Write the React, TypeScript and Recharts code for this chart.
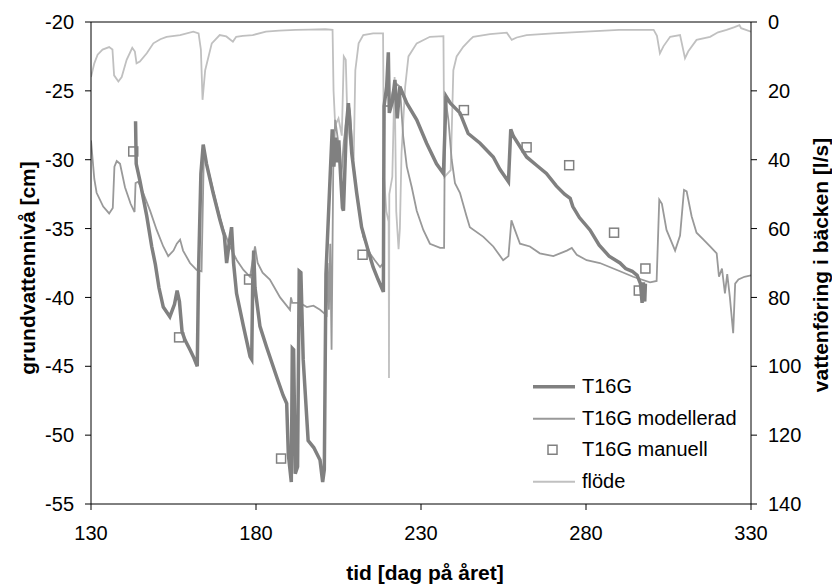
import React from 'react';
import { ComposedChart, Line, Scatter, XAxis, YAxis, Legend, Label, ReferenceLine } from 'recharts';

const FONT = '"Liberation Sans", Arial, Helvetica, sans-serif';

// axis ticks
const xTicks = [130, 180, 230, 280, 330];
const leftTicks = [-55, -50, -45, -40, -35, -30, -25, -20];
const rightTicks = [0, 20, 40, 60, 80, 100, 120, 140];

// T16G (logger), grundvattennivå [cm]
const t16gDays = [
  143.5, 143.7, 144.8, 146.9, 148.4, 149.5, 150.6, 151.9, 153.9, 155.3, 156.1, 156.8, 157.6, 158.5, 160,
  161.2, 162.2, 162.6, 163.3, 164, 165, 167, 169, 170.4, 171.1, 171.8, 172.6, 173.2, 174.1, 176.2, 177.3,
  178.2, 178.7, 179, 179.3, 179.7, 181.2, 183.2, 186.3, 188.2, 189.3, 189.8, 190.7, 191, 191.4, 191.9,
  192.6, 193.1, 193.6, 194.3, 195.8, 197.5, 199.4, 200.2, 200.7, 201.2, 202.5, 203.1, 203.6, 204.1, 204.6,
  205.1, 205.6, 206.2, 206.5, 206.9, 207.4, 208, 208.5, 209, 210.5, 212, 214, 215.5, 217, 218.6, 218.8,
  219.6, 220.1, 220.4, 221.3, 222.1, 222.8, 223.6, 225.7, 228.7, 231.7, 234.7, 236.8, 237.6, 238.9, 241.8,
  244.3, 247.9, 251.9, 253.9, 256.5, 257.2, 258, 262, 265, 268, 271, 273.5, 275.2, 276, 278, 281.2, 284,
  287, 290.3, 292, 294, 295.5, 296.5, 297, 297.4, 297.8, 298,
];
const t16gLevels = [
  -27.2, -30.3, -31.5, -34.1, -36.3, -37.6, -39.3, -40.7, -41.4, -40.5, -39.5, -40.3, -42.5, -43.1, -43.8,
  -44.4, -45, -38, -31, -28.9, -30.3, -32.4, -34.3, -35.5, -37.5, -36.2, -34.9, -37.5, -39.7, -42.1, -43.3,
  -44.3, -44.5, -38.9, -36.6, -39.3, -42.1, -43.6, -45.8, -47.1, -47.7, -51.4, -53.4, -43.7, -43.8, -52.8,
  -52.3, -38.1, -38.2, -44.5, -50.4, -50.9, -51.8, -53.4, -52.5, -38.3, -31, -27.8, -30.5, -28.4, -30.2,
  -28.6, -31, -33.5, -33.7, -31, -27.5, -25.9, -27.5, -29.5, -32.4, -34.9, -36.6, -37.8, -38.7, -39.6, -26.1,
  -24.7, -22.2, -26.6, -25.8, -24.2, -27, -24.7, -25.9, -27.1, -28.8, -30.3, -31, -25.4, -25.9, -26.6,
  -28.1, -28.8, -29.8, -30.7, -31.6, -27.8, -28.3, -29.8, -30.4, -31, -31.9, -32.5, -32.8, -33.4, -34.2, -35.1, -36.2,
  -37, -37.5, -37.9, -38.1, -38.4, -39, -40.4, -38.9, -40.3, -39,
];

// T16G modellerad
const modellDays = [
  130, 131, 131.7, 133.7, 135.5, 136.6, 137.1, 137.8, 138.8, 140.3, 142, 143.2, 143.5, 144.3, 145.8, 147.9,
  149.9, 151.9, 153.4, 155, 156, 157, 157.9, 160, 162, 163.5, 164, 164.2, 166, 168, 170, 172.1, 174.2, 176.2,
  178.2, 179.2, 179.7, 180.5, 182, 184.2, 187.3, 190.3, 190.6, 191, 193.3, 195.4, 197.4, 199.4, 201.4, 201.7,
  202.1, 202.5, 202.9, 203.4, 204, 204.8, 205.8, 206.6, 208, 208.5, 209.5, 211, 212.5, 214.5, 216, 217.6,
  218.6, 218.9, 220.5, 221.5, 222.6, 223.6, 224.6, 225.7, 227.2, 228.7, 230.7, 232.7, 235.8, 237, 237.3,
  238.3, 239.3, 240.3, 241.8, 243.8, 244.8, 248.9, 251.9, 254.9, 256.5, 257.4, 258.3, 260, 263, 266, 270.1,
  274.2, 275.7, 277.2, 280.2, 284.2, 290.3, 294.3, 299.4, 301.4, 302.2, 303, 304.4, 307, 308.5, 309.7, 310.5,
  312, 313.5, 315.6, 317.6, 319.6, 320.3, 321.2, 322.1, 322.8, 323.6, 324.6, 325.2, 326.2, 328, 330,
];
const modellLevels = [
  -28.6, -31.4, -32.4, -33.4, -33.9, -33.5, -30.5, -30.1, -30.3, -32, -33.2, -33.8, -31.7, -31.6, -32.4, -33.7,
  -35.1, -36.3, -37, -36.6, -36.1, -35.8, -36.6, -37.5, -38, -38.1, -32, -29.5, -31.2, -33.2, -35, -36.3, -37.3, -38,
  -38.5, -37, -36.3, -37.5, -38.2, -38.7, -40, -40.9, -40, -40.4, -40.4, -40.7, -40.6, -40.9, -41.3, -37.5,
  -40.9, -36.1, -43.8, -30.8, -27.1, -28.5, -31.5, -28.7, -25.9, -26.5, -30.3, -33.4, -35.6, -36.8, -37.3, -37.8,
  -37.5, -26.1, -26.1, -25, -24.5, -24.7, -28.3, -30.5, -32, -33.7, -35.1, -36.1, -36.4, -36.4, -25.4,
  -27.1, -30, -31.7, -32.4, -34.1, -34.9, -35.6, -36.3, -37.3, -37, -34.4, -35, -36.1, -36.3, -36.8, -37,
  -36.6, -36.4, -36.9, -37.3, -37.5, -38.1, -38.5, -38.9, -38.8, -32.9, -33.2, -35.1, -36.6, -35.5, -32.2, -32.3,
  -34.1, -35.3, -35.8, -36.3, -36.8, -38.5, -37.9, -39.7, -38.3, -40, -42.6, -39, -38.7, -38.5, -38.4,
];

// T16G manuell
const manuellDays = [142.8, 156.7, 177.9, 187.6, 212.3, 243, 262, 274.9, 288.5, 296, 298];
const manuellLevels = [-29.4, -42.9, -38.7, -51.7, -36.9, -26.4, -29.1, -30.4, -35.3, -39.5, -37.9];

// flöde, vattenföring i bäcken [l/s]
const flodeDays = [
  130, 131, 132, 133.5, 135.5, 136.5, 137, 138.3, 139.3, 140.8, 142.5, 143.3, 143.8, 144.8, 146.9, 148.9, 151,
  152.9, 157, 161, 162.6, 163.3, 163.8, 164.6, 166.6, 169, 171, 173, 174, 176, 179, 183, 187, 192, 196, 201,
  203.2, 203.5, 204, 205, 206, 206.6, 207.2, 207.7, 208.5, 209.6, 210.1, 211.1, 212.5, 215.5, 218.5, 218.8,
  219.5, 220.2, 220.3, 220.4, 221.3, 222, 222.5, 223.2, 223.6, 224.1, 225.2, 226.2, 228.7, 232.7, 236.8, 237.1,
  239, 239.8, 240.8, 242.8, 244.8, 245.8, 250.9, 256, 257.5, 259, 262, 270, 280, 290, 300.5, 301.5, 302.4,
  303.5, 305.5, 308.5, 310, 311, 313.5, 317.6, 320, 322.6, 325, 326.5, 327, 330,
];
const flodeValues = [
  16, 12, 9.5, 8, 7.3, 8, 15.5, 17.3, 16, 11, 7.5, 8.6, 12, 11.5, 9.1, 6.2, 5,
  4.3, 3.8, 2.8, 3.3, 8, 22.6, 14, 6.2, 3.8, 4.2, 5.7, 4.3, 4, 3.8, 2.8, 2.5, 2.3, 2.2, 2.1,
  2.3, 20, 30, 28, 33, 10, 11, 28.5, 35, 40, 14, 6.2, 3.8, 3.3, 3.3, 45,
  55, 58, 103.4, 50, 45, 16, 55, 66, 60, 38, 18.8, 10, 6.2, 4.3, 4.1, 45,
  43, 14, 10, 7.2, 5.2, 4.3, 3.5, 3.1, 5.2, 4.5, 3.8, 3.3, 2.8, 2.3, 2.3, 4, 9.1,
  7, 4.3, 3.8, 10.5, 8.5, 5.2, 4.3, 3, 2.3, 1.5, 0.9, 1.8, 2.8,
];

const toPoints = (days: number[], values: number[]) => days.map((day, i) => ({ day, v: values[i] }));

const t16gData = toPoints(t16gDays, t16gLevels);
const modellData = toPoints(modellDays, modellLevels);
const manuellData = toPoints(manuellDays, manuellLevels);
const flodeData = toPoints(flodeDays, flodeValues);

const C_T16G = '#808080';
const C_MODELL = '#999999';
const C_FLODE = '#c0c0c0';

const tickStyle = { fill: '#000', fontSize: 20, fontFamily: FONT };

const Square = (props: any) => {
  const { cx, cy } = props;
  if (cx == null || cy == null) return null;
  return <rect x={cx - 4.5} y={cy - 4.5} width={9} height={9} fill="#fff" fillOpacity={0} stroke={C_T16G} strokeWidth={1.5} />;
};

const legendItems = [
  { name: 'T16G', kind: 'line', color: C_T16G, width: 3.5 },
  { name: 'T16G modellerad', kind: 'line', color: C_MODELL, width: 1.8 },
  { name: 'T16G manuell', kind: 'square', color: C_T16G, width: 1.5 },
  { name: 'flöde', kind: 'line', color: C_FLODE, width: 1.8 },
];

const ChartLegend = () => (
  <div style={{ fontFamily: FONT, fontSize: 20, color: '#000' }}>
    {legendItems.map((item) => (
      <div key={item.name} style={{ display: 'flex', alignItems: 'center', height: 31.5 }}>
        <svg width={49} height={31.5} style={{ display: 'block' }}>
          {item.kind === 'line' ? (
            <line x1={0} x2={42} y1={15.75} y2={15.75} stroke={item.color} strokeWidth={item.width} />
          ) : (
            <rect x={15} y={11.25} width={9} height={9} fill="none" stroke={item.color} strokeWidth={item.width} />
          )}
        </svg>
        <span style={{ whiteSpace: 'nowrap' }}>{item.name}</span>
      </div>
    ))}
  </div>
);

const titleProps = { fontFamily: FONT, fontSize: 21, fontWeight: 'bold' as const, fill: '#000' };

export default function App() {
  return (
    <div style={{ position: 'absolute', left: 0, top: 0, width: 832, height: 585, background: '#fff' }}>
      <ComposedChart width={832} height={585} margin={{ top: 22, right: 0, bottom: 0, left: 0 }}>
        <XAxis
          dataKey="day"
          type="number"
          domain={[130, 330]}
          ticks={xTicks}
          allowDataOverflow
          height={81}
          stroke="#000"
          tickSize={6}
          tickMargin={16}
          tick={tickStyle}
        >
          <Label
            content={() => (
              <text x={425} y={572} textAnchor="middle" dominantBaseline="central" {...titleProps}>
                tid [dag på året]
              </text>
            )}
          />
        </XAxis>
        <YAxis
          yAxisId="left"
          type="number"
          domain={[-55, -20]}
          ticks={leftTicks}
          allowDataOverflow
          width={91}
          stroke="#000"
          tickSize={6}
          tickMargin={11}
          tick={tickStyle}
        >
          <Label
            content={() => (
              <text x={27} y={268} textAnchor="middle" dominantBaseline="central" transform="rotate(-90 27 268)" {...titleProps}>
                grundvattennivå [cm]
              </text>
            )}
          />
        </YAxis>
        <YAxis
          yAxisId="right"
          orientation="right"
          type="number"
          domain={[0, 140]}
          ticks={rightTicks}
          reversed
          allowDataOverflow
          width={81}
          stroke="#000"
          tickSize={6}
          tickMargin={11}
          tick={tickStyle}
        >
          <Label
            content={() => (
              <text x={820} y={265} textAnchor="middle" dominantBaseline="central" transform="rotate(-90 820 265)" {...titleProps}>
                vattenföring i bäcken [l/s]
              </text>
            )}
          />
        </YAxis>
        <ReferenceLine yAxisId="left" y={-20} stroke="#000" strokeWidth={1} />
        <Line
          yAxisId="right"
          data={flodeData}
          dataKey="v"
          name="flöde"
          type="linear"
          stroke={C_FLODE}
          strokeWidth={1.8}
          dot={false}
          isAnimationActive={false}
        />
        <Line
          yAxisId="left"
          data={modellData}
          dataKey="v"
          name="T16G modellerad"
          type="linear"
          stroke={C_MODELL}
          strokeWidth={1.8}
          dot={false}
          isAnimationActive={false}
        />
        <Line
          yAxisId="left"
          data={t16gData}
          dataKey="v"
          name="T16G"
          type="linear"
          stroke={C_T16G}
          strokeWidth={3.5}
          dot={false}
          isAnimationActive={false}
        />
        <Scatter
          yAxisId="left"
          data={manuellData}
          dataKey="v"
          name="T16G manuell"
          shape={Square}
          isAnimationActive={false}
        />
        <Legend
          layout="vertical"
          verticalAlign="middle"
          align="center"
          content={() => <ChartLegend />}
          wrapperStyle={{ position: 'absolute', left: 533, top: 371, width: 'auto' }}
        />
      </ComposedChart>
    </div>
  );
}
